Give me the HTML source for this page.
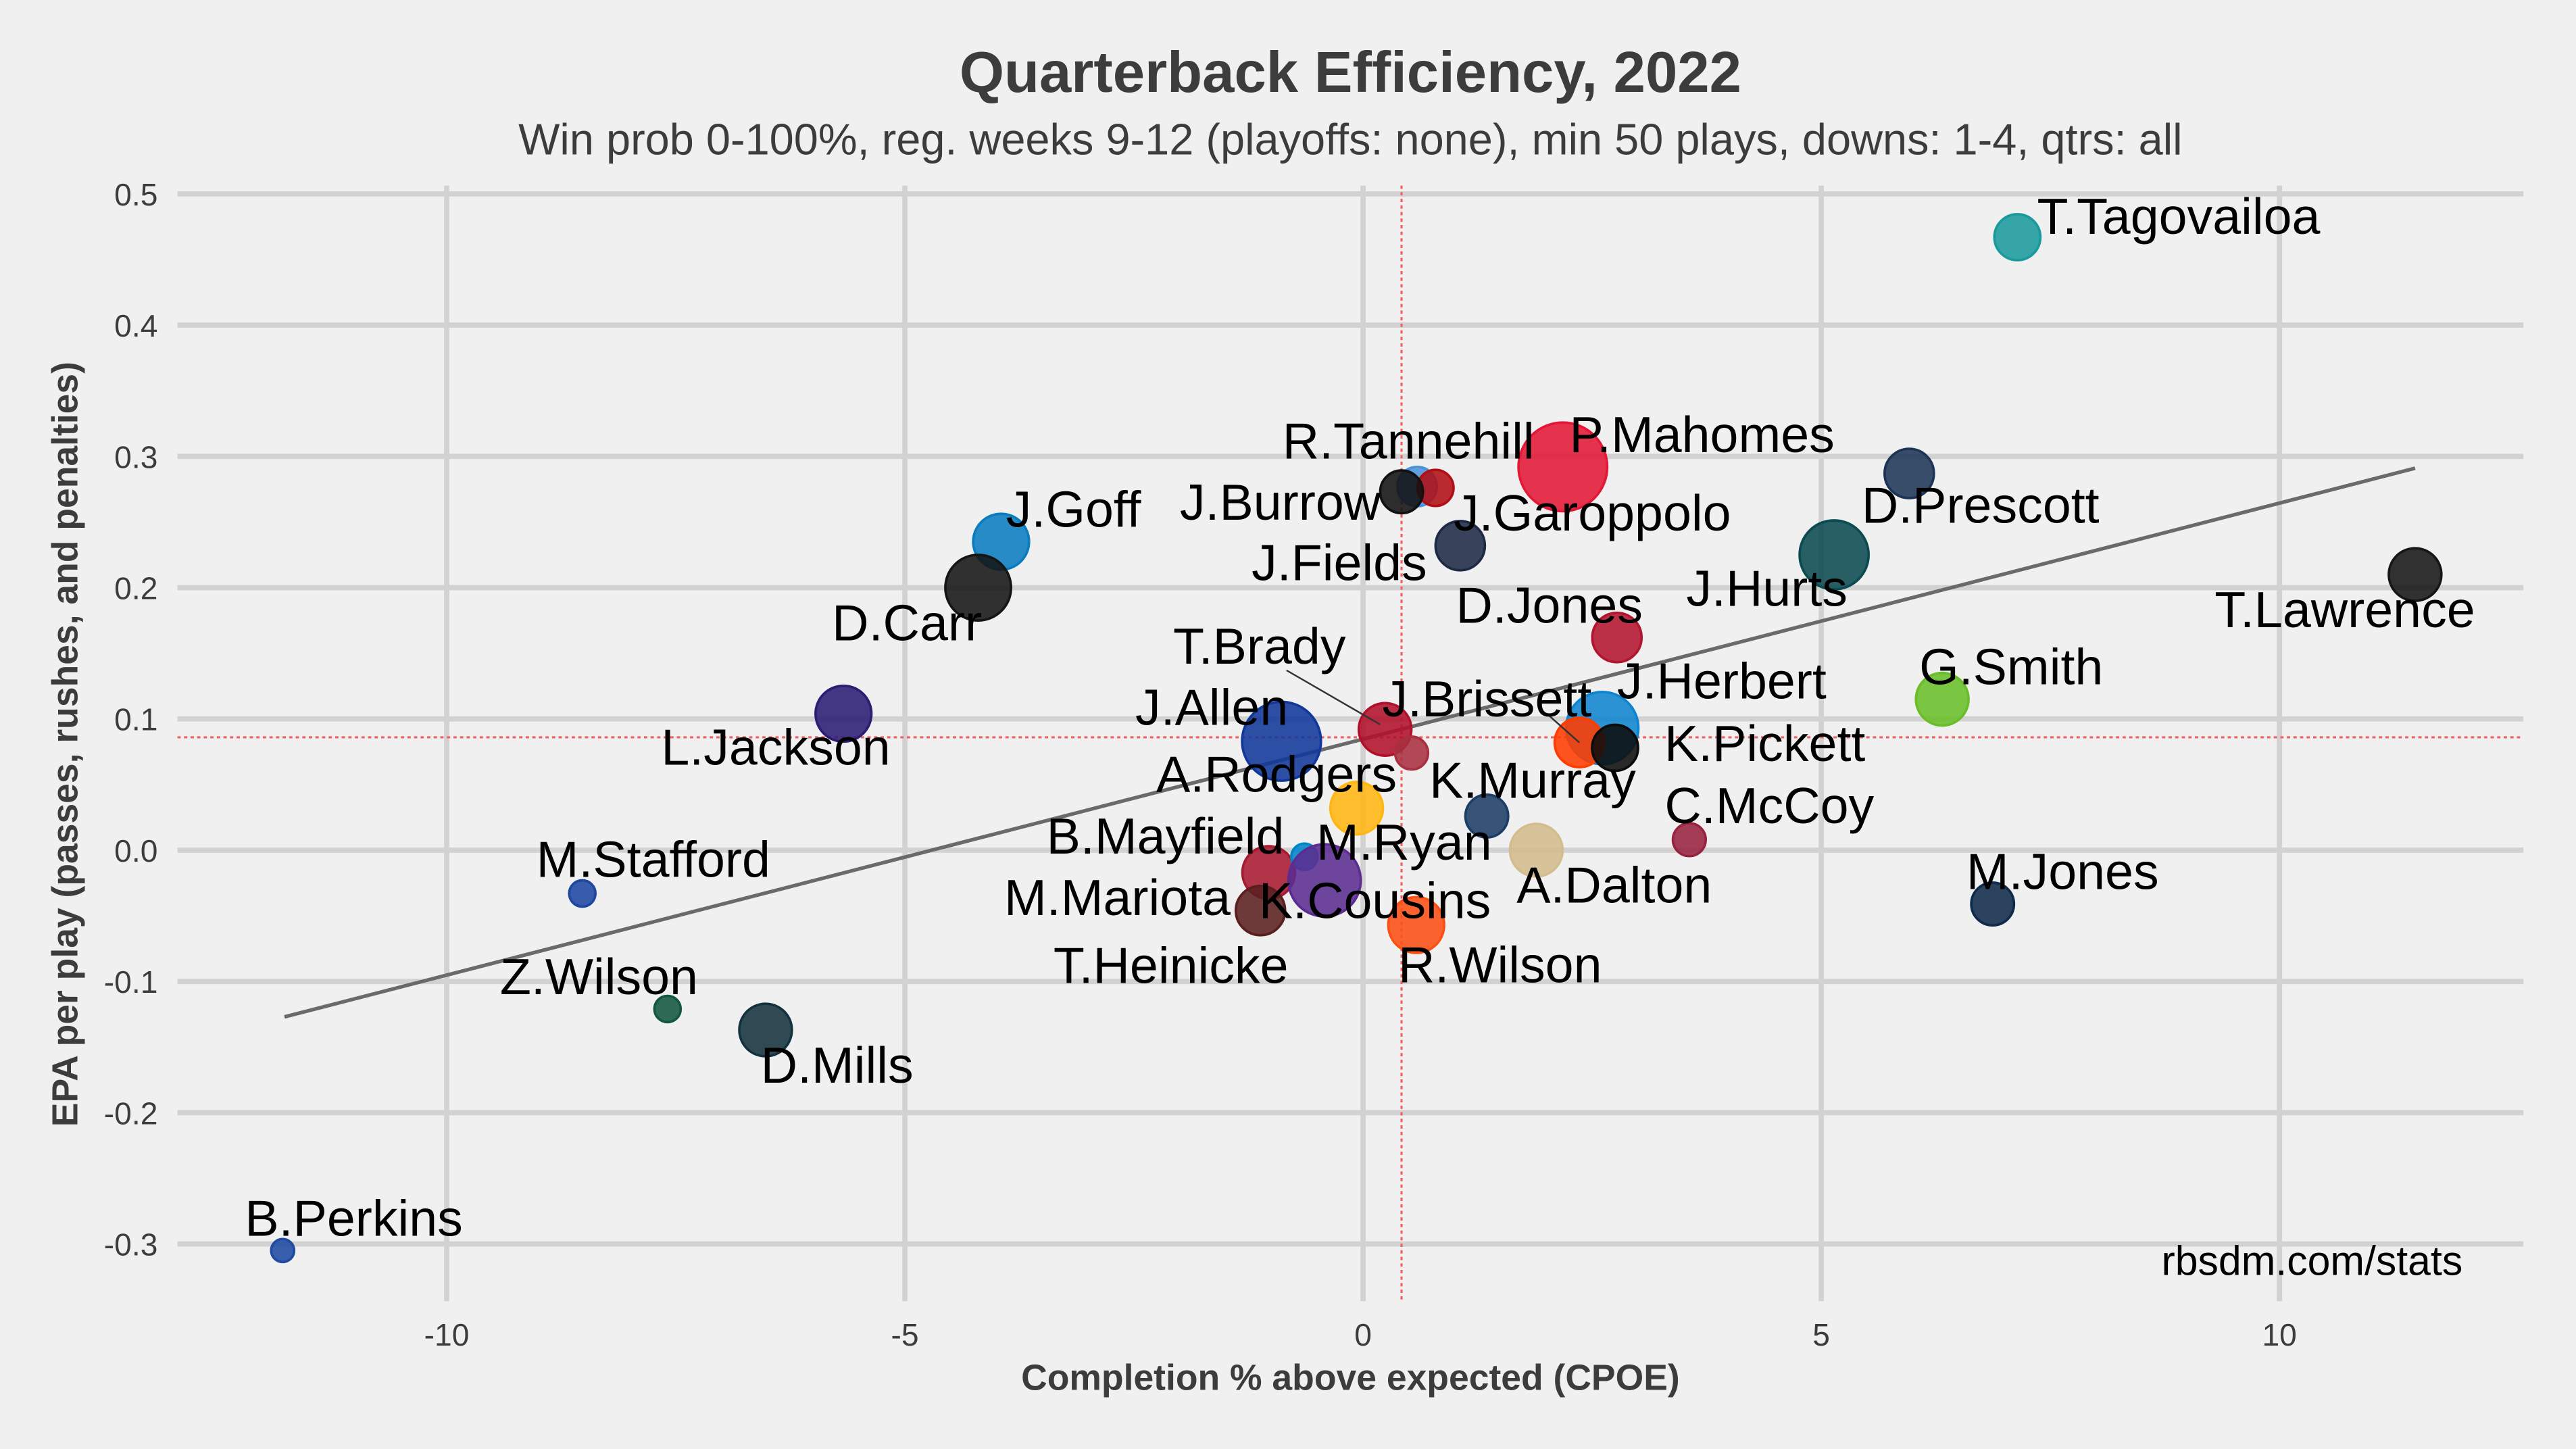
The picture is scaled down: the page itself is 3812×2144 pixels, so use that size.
<!DOCTYPE html>
<html><head><meta charset="utf-8"><style>
html,body{margin:0;padding:0;background:#f0f0f0}
svg{display:block}
text{font-family:"Liberation Sans",sans-serif}
</style></head><body>
<svg id="chart" width="3812" height="2144" viewBox="0 0 1568 882" preserveAspectRatio="none" xmlns="http://www.w3.org/2000/svg">
<rect x="0" y="0" width="1568" height="882" fill="#f0f0f0"/>
<g id="grid"></g>
<g id="ref"></g>
<g id="trend"></g>
<g id="pts"></g>
<g id="lbls"></g>
<text x="822" y="56" text-anchor="middle" font-size="35" font-weight="bold" fill="#3c3c3c">Quarterback Efficiency, 2022</text>
<text x="822" y="94" text-anchor="middle" font-size="26.7" fill="#3c3c3c">Win prob 0-100%, reg. weeks 9-12 (playoffs: none), min 50 plays, downs: 1-4, qtrs: all</text>
<text x="822" y="846" text-anchor="middle" font-size="22" font-weight="bold" fill="#3c3c3c">Completion % above expected (CPOE)</text>
<text transform="translate(47,453) rotate(-90)" text-anchor="middle" font-size="22" font-weight="bold" fill="#3c3c3c">EPA per play (passes, rushes, and penalties)</text>
<text x="1499" y="776" text-anchor="end" font-size="25" fill="#000">rbsdm.com/stats</text>
</svg>
<script>
const names = ["T.Tagovailoa","P.Mahomes","D.Prescott","R.Tannehill","J.Garoppolo","J.Burrow","J.Fields","J.Goff","D.Carr","T.Lawrence","J.Hurts","D.Jones","G.Smith","L.Jackson","J.Allen","T.Brady","M.Ryan","J.Herbert","J.Brissett","K.Pickett","A.Rodgers","K.Murray","A.Dalton","C.McCoy","M.Jones","M.Mariota","B.Mayfield","K.Cousins","T.Heinicke","R.Wilson","M.Stafford","Z.Wilson","D.Mills","B.Perkins"];
const cpoe = [7.14,2.18,5.96,0.59,0.79,0.42,1.06,-3.95,-4.2,11.48,5.14,2.77,6.32,-5.67,-0.89,0.24,0.53,2.61,2.36,2.75,-0.07,1.35,1.89,3.56,6.87,-1.03,-0.64,-0.42,-1.12,0.58,-8.52,-7.59,-6.52,-11.79];
const epa = [0.467,0.292,0.287,0.277,0.276,0.273,0.232,0.235,0.2,0.21,0.225,0.162,0.115,0.104,0.083,0.092,0.074,0.093,0.082,0.078,0.032,0.026,0.0,0.008,-0.041,-0.017,-0.005,-0.023,-0.046,-0.057,-0.033,-0.121,-0.137,-0.305];
const plays = [14,27,15,12,11,13,15,17,20,16,21,15,16,17,24,16,10,22,15,14,16,13,16,10,13,16,8,22,15,17,8,8,16,7];
const colors = ["#1a9a9c","#e31837","#1c3557","#4b92db","#b00f14","#111111","#1e2a45","#0a7cc0","#151515","#161616","#0b4a50","#b3142e","#69be28","#2a1d73","#10389a","#b0102a","#a8303f","#0f84cf","#ff3c00","#0c0c0c","#ffb612","#1c3d66","#d3bc8d","#97233f","#0f2a4a","#a71930","#0085ca","#5b2c91","#5a1f1f","#fb4f14","#1e47a0","#125740","#14323d","#1e4aa0"];
const labelDx = [12,4,-29,-82,11,-135,-127,3,-89,-122,-90,-98,-14,-111,-89,-129,-58,9,-120,30,-122,-35,-12,-15,-16,-161,-157,-40,-126,-11,-28,-102,-3,-23];
const labelDy = [-2,-9,30,-17,26,17,21,-9,32,32,31,-9,-9,31,-10,-40,65,-18,-16,8,-10,-11,32,-10,-9,26,-2,23,44,35,-10,-9,32,-9];
const xTicks = [-10,-5,0,5,10];
const yTicks = [0.5,0.4,0.3,0.2,0.1,0.0,-0.1,-0.2,-0.3];
const yTickLabels = ["0.5","0.4","0.3","0.2","0.1","0.0","-0.1","-0.2","-0.3"];
const meanCpoe = 0.42, meanEpa = 0.086;
const trendX = [-11.77, 11.48];
const trendY = [-0.127, 0.291];

const NS="http://www.w3.org/2000/svg";
const X = v => 829.7 + v*55.78;
const Y = v => 517.5 - v*799;
const L = 108, R = 1536, T = 113, B = 792;
function mk(tag, attrs, parent){const e=document.createElementNS(NS,tag);for(const k in attrs)e.setAttribute(k,attrs[k]);parent.appendChild(e);return e;}
const grid=document.getElementById('grid');
xTicks.forEach(t=>{
  const l=mk('line',{x1:X(t),x2:X(t),y1:T,y2:B,stroke:'#d2d2d2','stroke-width':3.2},grid);
  
  
  const tx=mk('text',{x:X(t),y:819,'text-anchor':'middle','font-size':19,fill:'#3c3c3c'},grid);
  tx.textContent=t;
  
  
});
yTicks.forEach((t,i)=>{
  const l=mk('line',{x1:L,x2:R,y1:Y(t),y2:Y(t),stroke:'#d2d2d2','stroke-width':3.2},grid);
  
  
  const tx=mk('text',{x:96,y:Y(t)+7,'text-anchor':'end','font-size':19,fill:'#3c3c3c'},grid);
  tx.textContent=yTickLabels[i];
  
  
});
const ref=document.getElementById('ref');
let h=mk('line',{x1:L,x2:R,y1:Y(meanEpa),y2:Y(meanEpa),stroke:'#f06060','stroke-width':1.3,'stroke-dasharray':'2,2'},ref);


let v=mk('line',{x1:X(meanCpoe),x2:X(meanCpoe),y1:T,y2:B,stroke:'#f06060','stroke-width':1.3,'stroke-dasharray':'2,2'},ref);


const tr=mk('line',{x1:X(trendX[0]),y1:Y(trendY[0]),x2:X(trendX[1]),y2:Y(trendY[1]),stroke:'#6a6a6a','stroke-width':2.2},document.getElementById('trend'));


const pts=document.getElementById('pts'), lbls=document.getElementById('lbls');
const bi=names.indexOf("T.Brady");
const ld=mk('line',{x1:X(cpoe[bi])-60,y1:Y(epa[bi])-36,x2:X(cpoe[bi])-3,y2:Y(epa[bi])-3,stroke:'#333','stroke-width':1},lbls);


const si=names.indexOf("J.Brissett");
const ld2=mk('line',{x1:X(cpoe[si])-18,y1:Y(epa[si])-16,x2:X(cpoe[si]),y2:Y(epa[si]),stroke:'#333','stroke-width':1},lbls);


names.forEach((n,i)=>{
  const c=mk('circle',{cx:X(cpoe[i]),cy:Y(epa[i]),r:plays[i],fill:colors[i],'fill-opacity':0.88,stroke:colors[i],'stroke-width':1.5},pts);
  
  
  const t=mk('text',{x:X(cpoe[i])+labelDx[i],y:Y(epa[i])+labelDy[i],'font-size':31,fill:'#000'},lbls);
  t.textContent=n;
  
  
});
</script>
</body></html>
